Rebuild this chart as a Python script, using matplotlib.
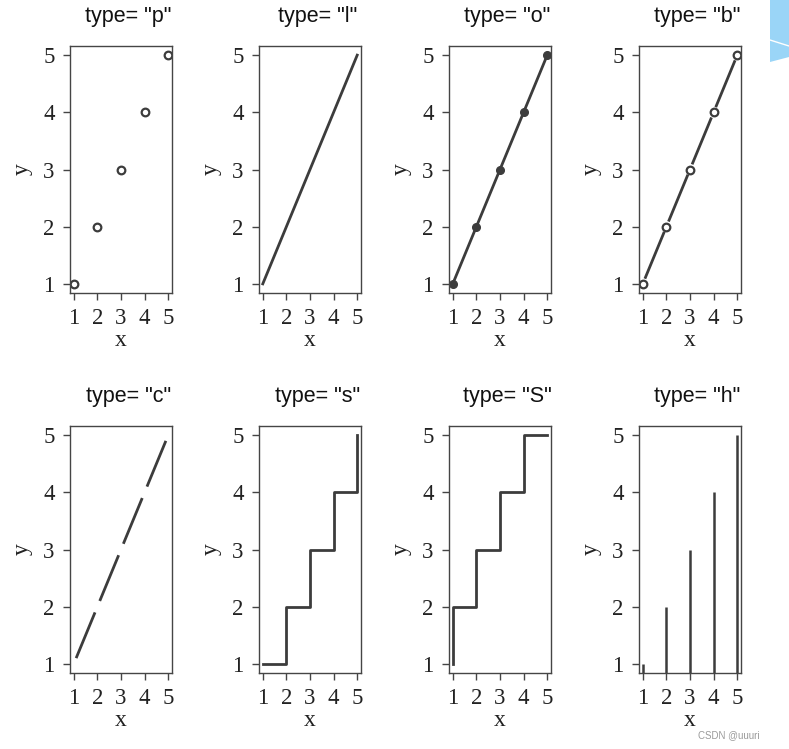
import numpy as np
import matplotlib.pyplot as plt
from matplotlib.patches import Polygon
from matplotlib.lines import Line2D

x = [1, 2, 3, 4, 5]
y = [1, 2, 3, 4, 5]
types = ["p", "l", "o", "b", "c", "s", "S", "h"]

W, H = 789, 749
col_left = [70, 259, 449, 639]
row_top = [46, 426]
box_w, box_h = 102, 247

line_col = "#3c3c3c"
frame_col = "#454545"
serif = "Liberation Serif"
sans = "Liberation Sans"


def gapped_segments(ax, xs, ys, frac):
    # line pieces that stop short of each point (R style "b" / "c")
    for i in range(len(xs) - 1):
        x0, y0, x1, y1 = xs[i], ys[i], xs[i + 1], ys[i + 1]
        dx, dy = x1 - x0, y1 - y0
        ax.plot([x0 + frac * dx, x1 - frac * dx], [y0 + frac * dy, y1 - frac * dy],
                color=line_col, lw=2.0, solid_capstyle="butt")


fig = plt.figure(figsize=(W / 100, H / 100), dpi=100)

for k, t in enumerate(types):
    r, c = divmod(k, 4)
    left = col_left[c] / W
    bottom = 1 - (row_top[r] + box_h) / H
    ax = fig.add_axes([left, bottom, box_w / W, box_h / H])

    if t == "p":
        ax.plot(x, y, "o", mfc="none", mec=line_col, ms=5.5, mew=1.6)
    elif t == "l":
        ax.plot(x, y, color=line_col, lw=2.0)
    elif t == "o":
        ax.plot(x, y, "-o", color=line_col, lw=2.0, ms=5.5)
    elif t == "b":
        ax.plot(x, y, "o", mfc="none", mec=line_col, ms=5.5, mew=1.6)
        gapped_segments(ax, x, y, 0.09)
    elif t == "c":
        gapped_segments(ax, x, y, 0.1)
    elif t == "s":
        ax.plot(x, y, color=line_col, lw=2.0, drawstyle="steps-post")
    elif t == "S":
        ax.plot(x, y, color=line_col, lw=2.0, drawstyle="steps-pre")
    elif t == "h":
        ax.vlines(x, 0, y, color=line_col, lw=1.8)

    ax.set_xlim(0.84, 5.16)
    ax.set_ylim(0.84, 5.16)
    ax.set_xticks(x)
    ax.set_yticks(y)
    for s in ax.spines.values():
        s.set_color(frame_col)
        s.set_linewidth(1.0)
    ax.tick_params(direction="out", length=5, width=1.0, color=frame_col,
                   labelsize=16.5, labelcolor="#222222")
    ax.tick_params(axis="y", pad=6)
    ax.tick_params(axis="x", pad=6)
    for lab in ax.get_xticklabels() + ax.get_yticklabels():
        lab.set_family(serif)

    ax.set_xlabel("x", family=serif, fontsize=17, color="#222222")
    ax.set_ylabel("y", family=serif, fontsize=17, color="#222222")
    ax.xaxis.set_label_coords(0.5, -0.15)
    ax.yaxis.set_label_coords(-0.37, 0.5)

    ax.set_title('type= "%s"' % t, family=sans, fontsize=15.5, color="#111111",
                 x=0.57, pad=17)

# decoration in the top right corner and the watermark
blue = Polygon([[770 / W, 1], [1, 1], [1, 1 - 57 / H], [770 / W, 1 - 62 / H]],
               closed=True, transform=fig.transFigure, facecolor="#9ad5f7",
               edgecolor="none")
fig.patches.append(blue)
fig.lines.append(Line2D([770 / W, 1], [1 - 40 / H, 1 - 46 / H],
                        transform=fig.transFigure, color="white", lw=1.0))
fig.text(760 / W, 1 - 735 / H, "CSDN @uuuri", family=sans, fontsize=7,
         color="#9a9a9a", ha="right", va="center")

fig.savefig("out.png", dpi=100)
